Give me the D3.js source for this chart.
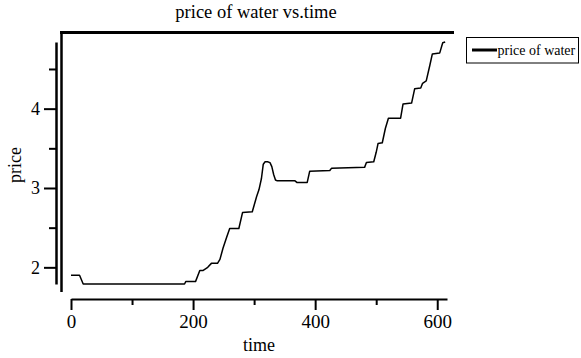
<!DOCTYPE html>
<html>
<head>
<meta charset="utf-8">
<script src="https://cdn.jsdelivr.net/npm/d3@7"></script>
<style>
  html, body { margin: 0; padding: 0; background: #fff; }
  svg { display: block; }
  text { font-family: "Liberation Serif", "Times New Roman", serif; fill: #000; }
</style>
</head>
<body>
<svg id="chart" width="581" height="358"></svg>
<script>
// ---- data ----
const time = [0, 14, 20, 186, 188, 204, 211, 216, 224, 230, 240, 244, 249, 255, 260, 275, 281,
  297, 304, 308, 312, 315, 318, 322, 326, 329, 332, 335, 338, 367, 370, 387, 391, 424, 427,
  481, 484, 496, 500, 503, 510, 515, 520, 540, 544, 558, 563, 573, 576, 582, 588, 592, 604, 609, 613];
const price = [1.90, 1.90, 1.79, 1.79, 1.82, 1.82, 1.96, 1.96, 2.00, 2.05, 2.05, 2.10, 2.24, 2.38, 2.49, 2.49, 2.69,
  2.70, 2.89, 2.98, 3.12, 3.30, 3.33, 3.33, 3.32, 3.27, 3.17, 3.10, 3.09, 3.09, 3.07, 3.07, 3.21, 3.22, 3.25,
  3.26, 3.32, 3.33, 3.45, 3.56, 3.57, 3.75, 3.88, 3.88, 4.06, 4.07, 4.25, 4.26, 4.32, 4.35, 4.55, 4.69, 4.70, 4.83, 4.84];
const xTicksMajor = [0, 200, 400, 600];
const xTicksMinor = [100, 300, 500];
const yTicksMajor = [2, 3, 4];
const yTicksMinor = [2.5, 3.5, 4.5];
const titleText = "price of water vs.time";
const xLabel = "time";
const yLabel = "price";
const seriesName = "price of water";

// ---- chart ----
const svg = d3.select("#chart");
const x = d3.scaleLinear().domain([0, 616]).range([71, 447]);
const y = d3.scaleLinear().domain([1.79, 4.84]).range([284, 42]);

// frame lines (top and inner left)
svg.append("line").attr("x1", 60).attr("x2", 454).attr("y1", 32.5).attr("y2", 32.5)
  .attr("stroke", "#000").attr("stroke-width", 3);
svg.append("line").attr("x1", 61.5).attr("x2", 61.5).attr("y1", 31).attr("y2", 292)
  .attr("stroke", "#000").attr("stroke-width", 2.5);

// y axis
const yAxisG = svg.append("g").attr("transform", "translate(56,0)");
yAxisG.call(d3.axisLeft(y).tickValues(yTicksMajor).tickSize(12).tickSizeOuter(0).tickPadding(4).tickFormat(d3.format("d")));
yAxisG.selectAll(".domain").attr("stroke-width", 2.5);
yAxisG.selectAll(".tick line").attr("stroke-width", 2);
yAxisG.selectAll(".tick text").style("font-size", "18px").style("font-family", "'Liberation Serif', serif");
const yMinor = svg.append("g").attr("transform", "translate(56,0)");
yMinor.call(d3.axisLeft(y).tickValues(yTicksMinor).tickSize(7).tickSizeOuter(0).tickFormat(""));
yMinor.select(".domain").remove();
yMinor.selectAll(".tick line").attr("stroke-width", 2);

// x axis
const xAxisG = svg.append("g").attr("transform", "translate(0,299)");
xAxisG.call(d3.axisBottom(x).tickValues(xTicksMajor).tickSize(11).tickSizeOuter(0).tickPadding(5).tickFormat(d3.format("d")));
xAxisG.selectAll(".domain").attr("stroke-width", 2);
xAxisG.selectAll(".tick line").attr("stroke-width", 2);
xAxisG.selectAll(".tick text").style("font-size", "19px").style("font-family", "'Liberation Serif', serif");
const xMinor = svg.append("g").attr("transform", "translate(0,299)");
xMinor.call(d3.axisBottom(x).tickValues(xTicksMinor).tickSize(6).tickSizeOuter(0).tickFormat(""));
xMinor.select(".domain").remove();
xMinor.selectAll(".tick line").attr("stroke-width", 2);

// line
const data = time.map((t, i) => ({ t, p: price[i] }));
svg.append("path").datum(data)
  .attr("fill", "none").attr("stroke", "#000").attr("stroke-width", 1.5)
  .attr("stroke-linejoin", "round")
  .attr("d", d3.line().x(d => x(d.t)).y(d => y(d.p)));

// title & labels
svg.append("text").attr("x", 256).attr("y", 18).attr("text-anchor", "middle")
  .style("font-size", "18.5px").text(titleText);
svg.append("text").attr("x", 259).attr("y", 351).attr("text-anchor", "middle")
  .style("font-size", "18px").text(xLabel);
svg.append("text").attr("transform", "translate(21,165) rotate(-90)").attr("text-anchor", "middle")
  .style("font-size", "18px").text(yLabel);

// legend
svg.append("rect").attr("x", 466.5).attr("y", 37.5).attr("width", 112).attr("height", 25.5)
  .attr("fill", "#fff").attr("stroke", "#000").attr("stroke-width", 1);
svg.append("line").attr("x1", 472).attr("x2", 497).attr("y1", 50).attr("y2", 50)
  .attr("stroke", "#000").attr("stroke-width", 3);
svg.append("text").attr("x", 497.5).attr("y", 54.5).style("font-size", "14px").text(seriesName);
</script>
</body>
</html>
